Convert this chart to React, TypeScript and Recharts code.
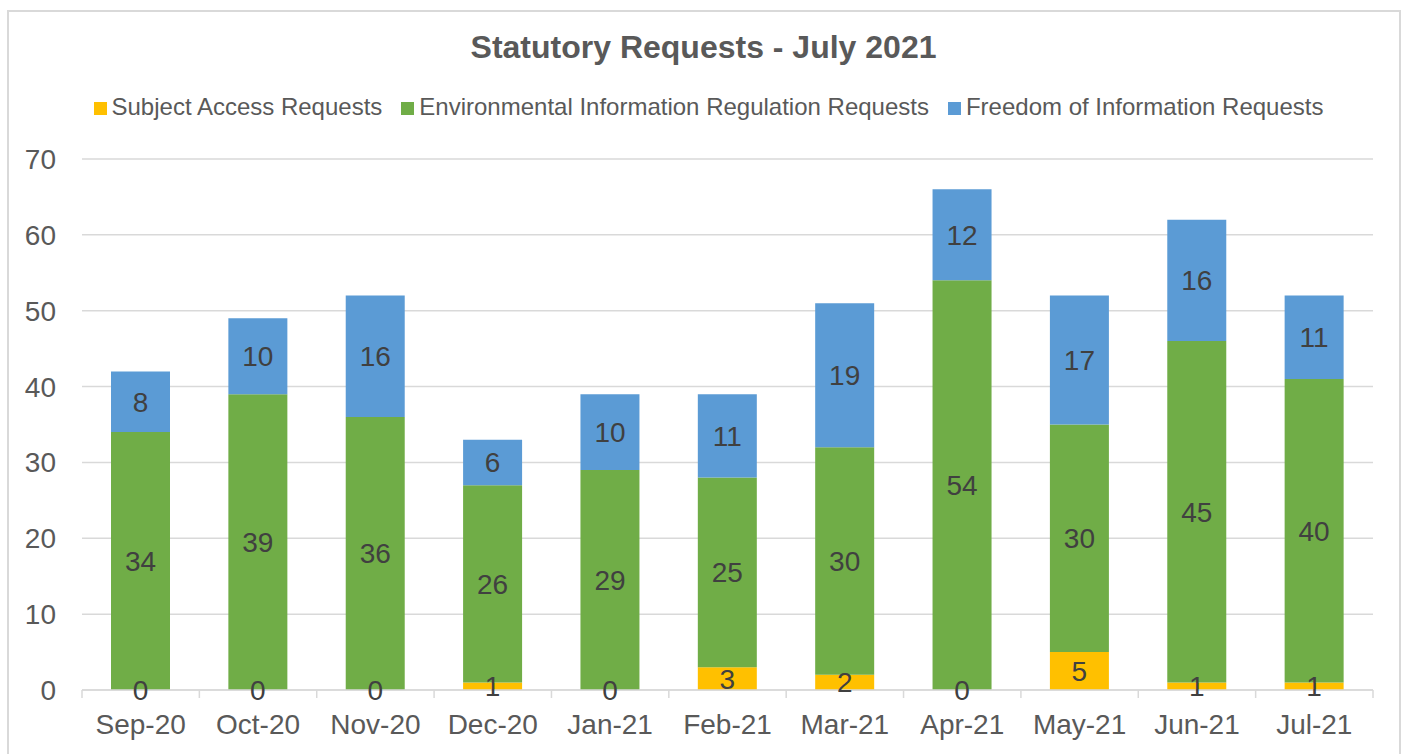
import React from "react";
import { BarChart, Bar, XAxis, YAxis, CartesianGrid, LabelList, Legend } from "recharts";

const months = ["Sep-20", "Oct-20", "Nov-20", "Dec-20", "Jan-21", "Feb-21", "Mar-21", "Apr-21", "May-21", "Jun-21", "Jul-21"];
const subjectAccess = [0, 0, 0, 1, 0, 3, 2, 0, 5, 1, 1];
const environmental = [34, 39, 36, 26, 29, 25, 30, 54, 30, 45, 40];
const freedomInfo = [8, 10, 16, 6, 10, 11, 19, 12, 17, 16, 11];
const yTicks = [0, 10, 20, 30, 40, 50, 60, 70];

const seriesNames = ["Subject Access Requests", "Environmental Information Regulation Requests", "Freedom of Information Requests"];
const seriesKeys = ["sar", "eir", "foi"];
const seriesColors = ["#FFC000", "#70AD47", "#5B9BD5"];

const data = months.map((m, i) => ({ month: m, sar: subjectAccess[i], eir: environmental[i], foi: freedomInfo[i] }));

const FONT = "'Liberation Sans', Arial, sans-serif";
const LABEL_SIZE = 28;

const XTick = (props: any) => {
  const { x, y, payload, index } = props;
  const off = payload && typeof payload.offset === "number" ? payload.offset : 0;
  return (
    <g>
      <line x1={x - off} x2={x - off} y1={y - 8} y2={y} stroke="#d9d9d9" strokeWidth={1.5} />
      {index === months.length - 1 && (
        <line x1={x + off} x2={x + off} y1={y - 8} y2={y} stroke="#d9d9d9" strokeWidth={1.5} />
      )}
      <text x={x} y={y + 36} textAnchor="middle" fill="#595959" fontSize={28} fontFamily={FONT}>
        {payload.value}
      </text>
    </g>
  );
};

// Labels for the bottom (Subject Access) segment, placed using the geometry of the
// green segment that Recharts computed (so zero-height segments still get a label).
const SarLabel = (props: any) => {
  const { viewBox, index } = props;
  const vb = viewBox || props;
  const eir = environmental[index];
  const sar = subjectAccess[index];
  const pxPerUnit = eir ? vb.height / eir : 0;
  const cx = vb.x + vb.width / 2;
  const cy = vb.y + vb.height + (sar * pxPerUnit) / 2;
  return (
    <text x={cx} y={cy} dy="0.355em" textAnchor="middle" fill="#404040" fontSize={LABEL_SIZE} fontFamily={FONT}>
      {sar}
    </text>
  );
};

const LegendContent = () => (
  <div style={{ display: "flex", justifyContent: "center", alignItems: "center", fontFamily: FONT, fontSize: 24, color: "#595959", lineHeight: "28px" }}>
    {seriesNames.map((n, i) => (
      <div key={n} style={{ display: "flex", alignItems: "center", marginRight: i < 2 ? 19 : 0 }}>
        <span style={{ display: "inline-block", width: 13, height: 13, background: seriesColors[i], marginRight: 5, position: "relative", top: 1 }} />
        <span>{n}</span>
      </div>
    ))}
  </div>
);

export default function App() {
  return (
    <div style={{ position: "relative", width: 1407, height: 754, overflow: "hidden", background: "#fff" }}>
      <style>{`body{margin:0;overflow:hidden;}`}</style>
      <div style={{ position: "absolute", left: 7, top: 10, width: 1394, height: 770, border: "2px solid #d9d9d9", boxSizing: "border-box" }} />
      <div style={{ position: "absolute", left: 0, top: 29, width: 1407, textAlign: "center", fontFamily: FONT, fontWeight: "bold", fontSize: 32, lineHeight: "37px", color: "#595959" }}>
        Statutory Requests - July 2021
      </div>
      <div style={{ position: "absolute", left: 0, top: 0 }}>
        <BarChart width={1407} height={754} data={data} margin={{ top: 159, right: 34, left: 0, bottom: 0 }}>
          <CartesianGrid vertical={false} stroke="#d9d9d9" strokeWidth={1.5} />
          <XAxis dataKey="month" height={64} tickSize={8} tickMargin={0} tickLine={false} axisLine={{ stroke: "#d9d9d9", strokeWidth: 1.5 }} tick={<XTick />} interval={0} />
          <YAxis domain={[0, 70]} ticks={yTicks} width={82} axisLine={false} tickLine={false} tickSize={0} tickMargin={26} tick={{ fill: "#595959", fontSize: 28, fontFamily: FONT }} />
          <Legend layout="horizontal" verticalAlign="middle" align="center" wrapperStyle={{ top: 93, left: 5, width: 1407 }} content={<LegendContent />} />
          <Bar dataKey="sar" name={seriesNames[0]} stackId="a" fill={seriesColors[0]} barSize={59} isAnimationActive={false} />
          <Bar dataKey="eir" name={seriesNames[1]} stackId="a" fill={seriesColors[1]} barSize={59} isAnimationActive={false}>
            <LabelList dataKey="eir" position="center" fill="#404040" fontSize={LABEL_SIZE} fontFamily={FONT} />
            <LabelList dataKey="sar" content={<SarLabel />} />
          </Bar>
          <Bar dataKey="foi" name={seriesNames[2]} stackId="a" fill={seriesColors[2]} barSize={59} isAnimationActive={false}>
            <LabelList dataKey="foi" position="center" fill="#404040" fontSize={LABEL_SIZE} fontFamily={FONT} />
          </Bar>
        </BarChart>
      </div>
    </div>
  );
}
